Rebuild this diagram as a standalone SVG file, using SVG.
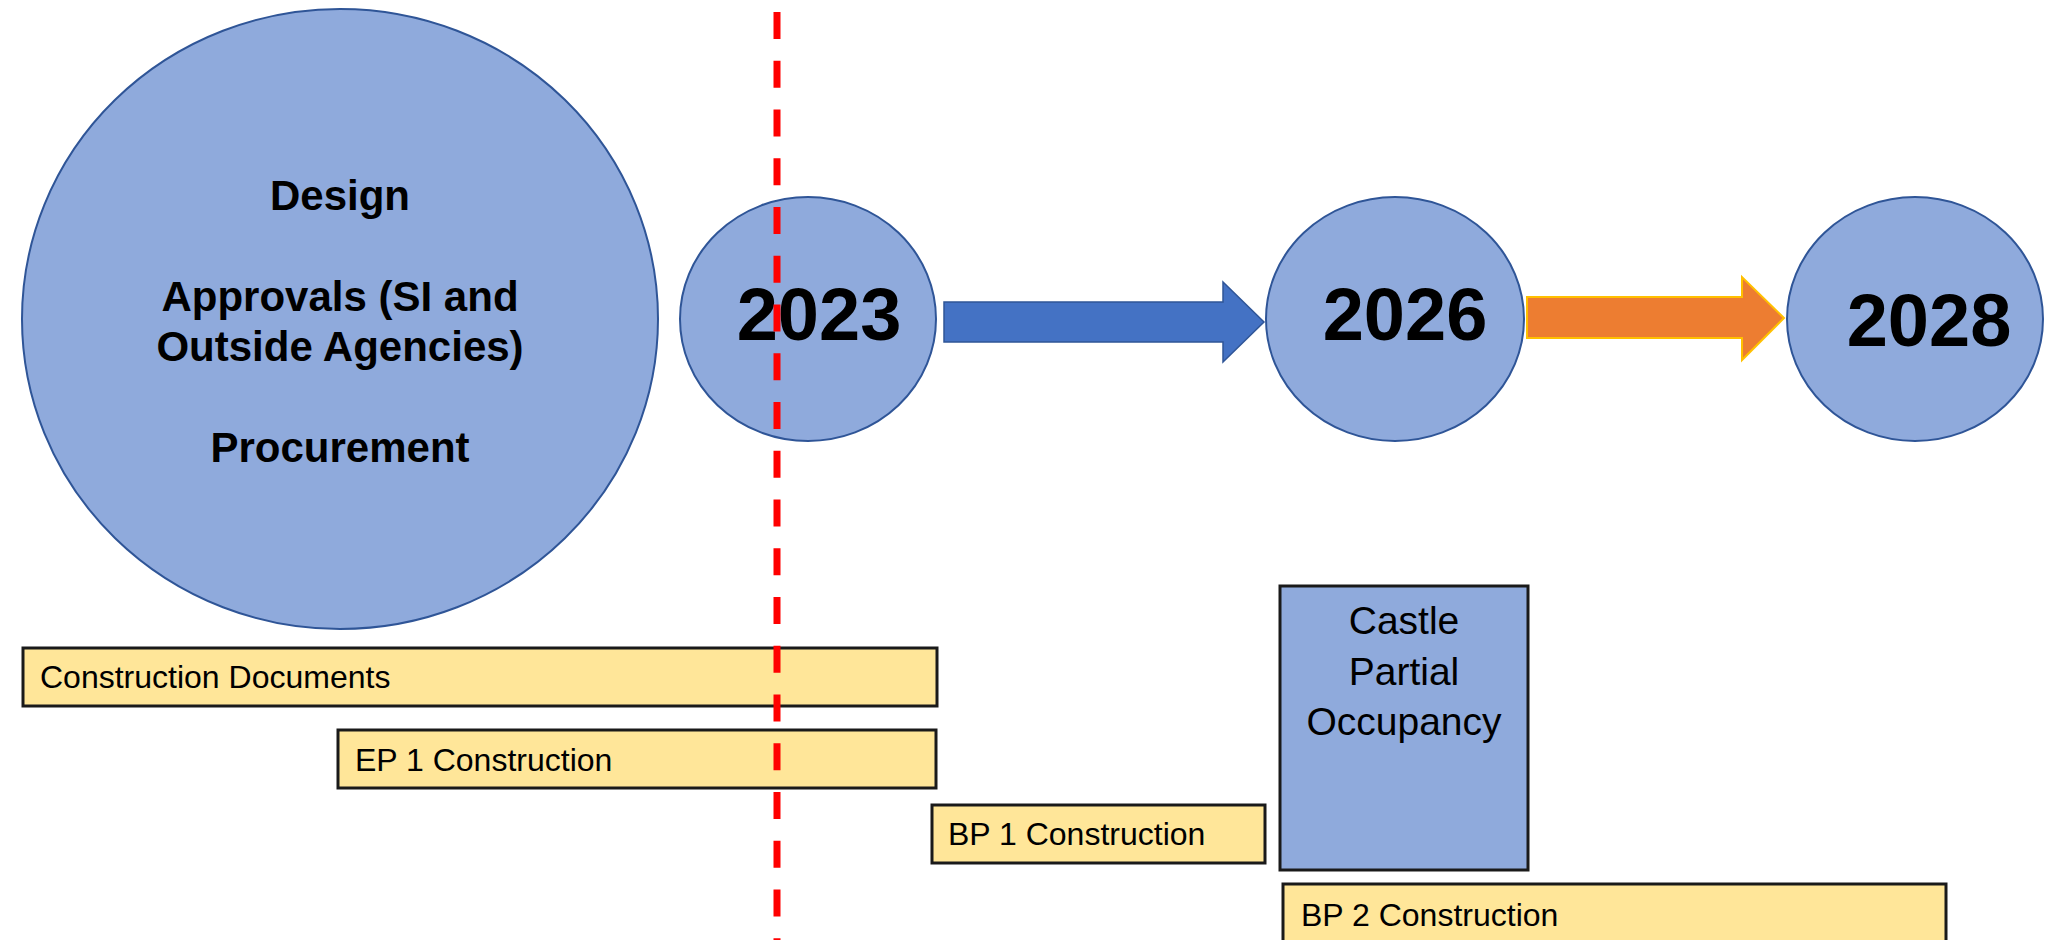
<svg xmlns="http://www.w3.org/2000/svg" width="2061" height="940" viewBox="0 0 2061 940">
<style>
.circ{fill:#8FAADC;stroke:#2F5597;stroke-width:2}
.bar{fill:#FFE699;stroke:#1a1a1a;stroke-width:3}
.big{font-family:"Liberation Sans",Arial,sans-serif;font-weight:bold;font-size:42px;fill:#000;text-anchor:middle}
.year{font-family:"Liberation Sans",Arial,sans-serif;font-weight:bold;font-size:74px;fill:#000;text-anchor:middle}
.lbl{font-family:"Liberation Sans",Arial,sans-serif;font-size:32px;fill:#000}
.castle{font-family:"Liberation Sans",Arial,sans-serif;font-size:39px;fill:#000;text-anchor:middle}
</style>
<rect width="2061" height="940" fill="#fff"/>
<g id="phase-design">
<ellipse class="circ" cx="340" cy="319" rx="318" ry="310"/>
<text class="big" x="340" y="210">Design</text>
<text class="big" x="340" y="311">Approvals (SI and</text>
<text class="big" x="340" y="361">Outside Agencies)</text>
<text class="big" x="340" y="462">Procurement</text>
</g>
<g id="year-2023">
<ellipse class="circ" cx="808" cy="319" rx="128" ry="122"/>
<text class="year" x="819" y="340">2023</text>
</g>
<g id="year-2026">
<ellipse class="circ" cx="1395" cy="319" rx="129" ry="122"/>
<text class="year" x="1405" y="340">2026</text>
</g>
<g id="year-2028">
<ellipse class="circ" cx="1915" cy="319" rx="128" ry="122"/>
<text class="year" x="1929" y="346">2028</text>
</g>
<g id="bar-cd">
<rect class="bar" x="23" y="648" width="914" height="58"/>
<text class="lbl" x="40" y="688">Construction Documents</text>
</g>
<g id="bar-ep1">
<rect class="bar" x="338" y="730" width="598" height="58"/>
<text class="lbl" x="355" y="771">EP 1 Construction</text>
</g>
<g id="bar-bp1">
<rect class="bar" x="932" y="805" width="333" height="58"/>
<text class="lbl" x="948" y="845">BP 1 Construction</text>
</g>
<g id="castle">
<rect x="1280" y="586" width="248" height="284" fill="#8FAADC" stroke="#1a1a1a" stroke-width="3"/>
<text class="castle" x="1404" y="634">Castle</text>
<text class="castle" x="1404" y="685">Partial</text>
<text class="castle" x="1404" y="735">Occupancy</text>
</g>
<g id="bar-bp2">
<rect class="bar" x="1283" y="884" width="663" height="70"/>
<text class="lbl" x="1301" y="926">BP 2 Construction</text>
</g>
<g id="connectors">
<path d="M944,302 H1223 V282 L1264,322 L1223,362 V342 H944 Z" fill="#4472C4" stroke="#2F5597" stroke-width="1.5"/>
<path d="M1527,297 H1742 V277 L1784,318 L1742,360 V338 H1527 Z" fill="#ED7D31" stroke="#FFC000" stroke-width="2"/>
<line x1="777" y1="12" x2="777" y2="940" stroke="#FF0000" stroke-width="7" stroke-dasharray="27 21.75"/>
</g>
</svg>
